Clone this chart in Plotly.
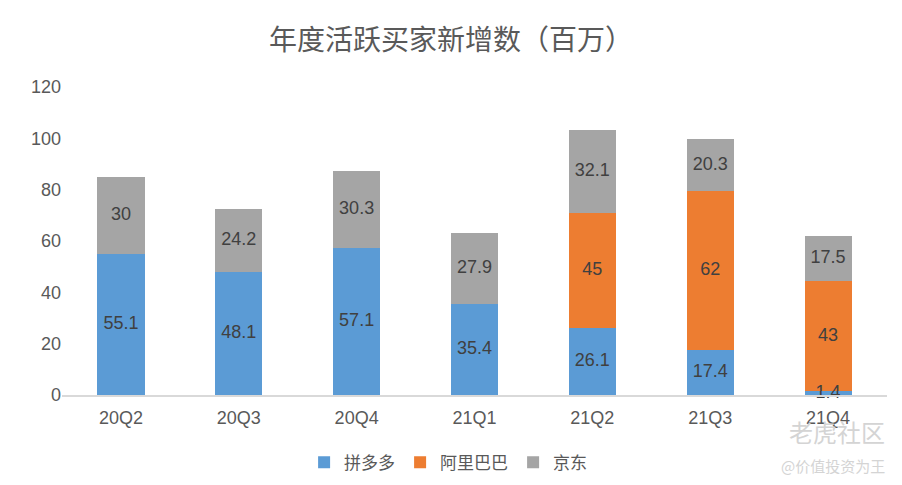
import plotly.graph_objects as go

categories = ["20Q2", "20Q3", "20Q4", "21Q1", "21Q2", "21Q3", "21Q4"]
pdd = [55.1, 48.1, 57.1, 35.4, 26.1, 17.4, 1.4]
alibaba = [0, 0, 0, 0, 45, 62, 43]
jd = [30, 24.2, 30.3, 27.9, 32.1, 20.3, 17.5]
series_names = ["拼多多", "阿里巴巴", "京东"]
colors = ["#5B9BD5", "#ED7D31", "#A5A5A5"]
title_text = "年度活跃买家新增数（百万）"
y_ticks = [0, 20, 40, 60, 80, 100, 120]

FONT = "Liberation Sans, Noto Sans CJK SC, sans-serif"
CJK = "Noto Sans CJK SC, sans-serif"

fig = go.Figure()
base = [0.0] * len(categories)
label_x, label_y, label_t = [], [], []
for name, vals, col in zip(series_names, [pdd, alibaba, jd], colors):
    fig.add_trace(go.Bar(
        x=categories, y=vals, name=name,
        marker=dict(color=col, line=dict(width=0)),
        hoverinfo="skip",
    ))
    for i, v in enumerate(vals):
        if v:
            label_x.append(categories[i])
            label_y.append(base[i] + v / 2)
            label_t.append("%g" % v)
        base[i] += v

fig.add_trace(go.Scatter(
    x=label_x, y=label_y, text=label_t, mode="text", showlegend=False,
    textfont=dict(family=FONT, size=18, color="#404040"), hoverinfo="skip", cliponaxis=False,
))

fig.update_layout(
    width=902, height=485,
    barmode="stack", bargap=0.6,
    plot_bgcolor="white", paper_bgcolor="white",
    margin=dict(l=62, r=15, t=87, b=90, autoexpand=False),
    font=dict(family=FONT, size=18, color="#595959"),
    title=dict(text=title_text, x=0.5, xanchor="center", y=1 - 40 / 485, yanchor="middle",
               font=dict(family=CJK, size=28, color="#595959")),
    legend=dict(orientation="h", x=0.468, xanchor="center", y=-0.22, yanchor="middle",
                traceorder="normal", font=dict(family=CJK, size=17, color="#595959"),
                itemwidth=30),
    showlegend=True,
)
fig.update_xaxes(showline=True, linecolor="#D9D9D9", linewidth=1.5, ticks="", showgrid=False,
                 tickfont=dict(size=18, color="#595959"), ticklabelstandoff=6)
fig.update_yaxes(range=[0, 120], tickvals=y_ticks, showgrid=False, zeroline=False, showline=False,
                 ticks="", tickfont=dict(size=18, color="#595959"))

# watermark
fig.add_annotation(text="老虎社区", xref="paper", yref="paper", x=1.0, y=-0.12, xanchor="right",
                   yanchor="middle", showarrow=False,
                   font=dict(family=CJK, size=24, color="#D4D4D4"))
fig.add_annotation(text="@价值投资为王", xref="paper", yref="paper", x=1.0, y=-0.23, xanchor="right",
                   yanchor="middle", showarrow=False,
                   font=dict(family=CJK, size=15, color="#D4D4D4"))

fig.write_html("out.html", config={"displayModeBar": False},
               post_script="document.body.style.margin='0';document.body.style.overflow='hidden';")
